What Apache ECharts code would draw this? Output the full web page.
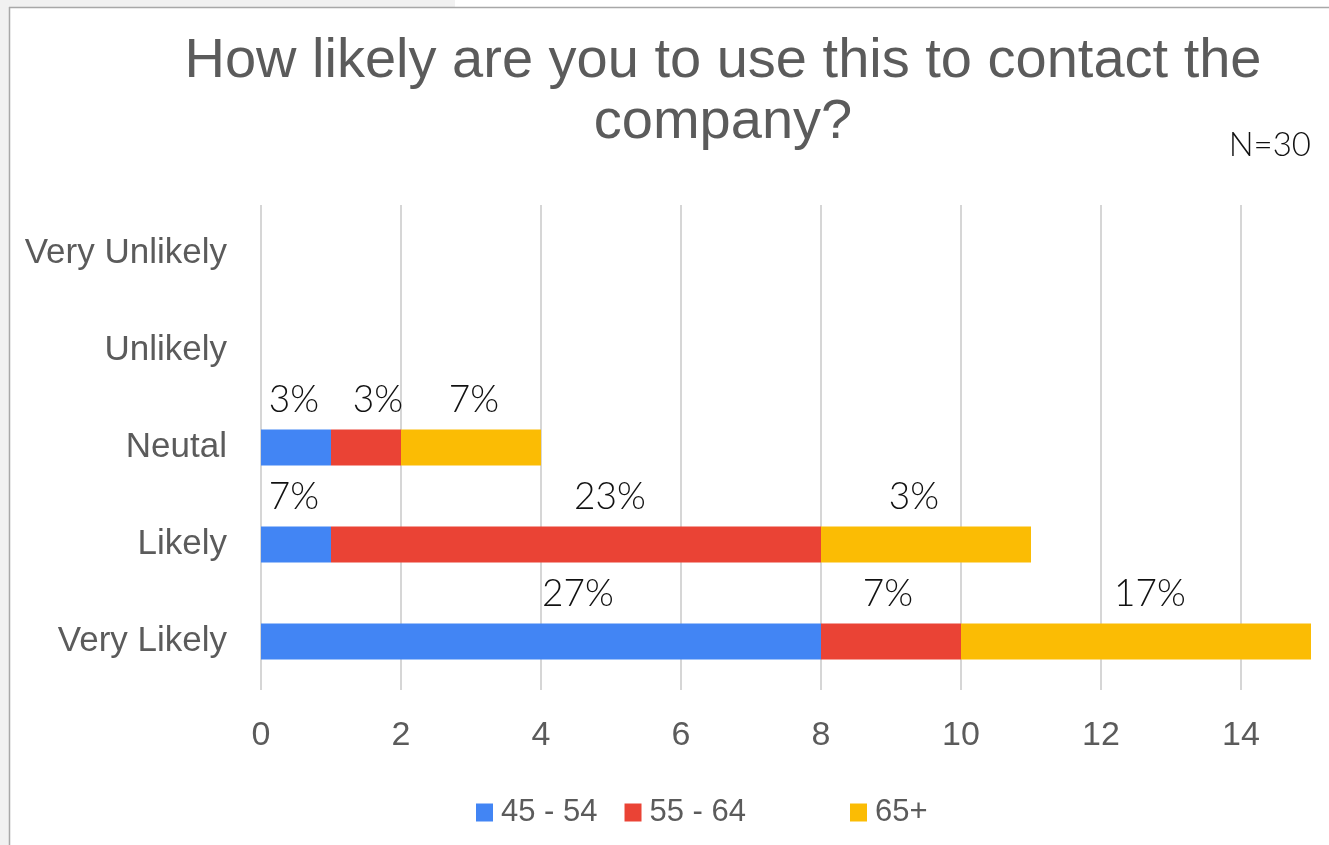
<!DOCTYPE html>
<html>
<head>
<meta charset="utf-8">
<title>How likely are you to use this to contact the company?</title>
<script src="https://cdn.jsdelivr.net/npm/echarts@6/dist/echarts.min.js"></script>
<style>
  html, body { margin: 0; padding: 0; background: #ffffff; }
  #chart { width: 1329px; height: 845px; }
</style>
</head>
<body>
<div id="chart"></div>
<script>
// Response categories, bottom to top on the vertical axis
const categories = ['Very Likely', 'Likely', 'Neutal', 'Unlikely', 'Very Unlikely'];
const groupNames = ['45 - 54', '55 - 64', '65+'];

// Respondent counts per age group (N=30)
const age45to54 = [8, 1, 1, 0, 0];
const age55to64 = [2, 7, 1, 0, 0];
const age65plus = [5, 3, 2, 0, 0];

// Percentage captions shown above each segment
const pct45to54 = ['27%', '7%', '3%', '', ''];
const pct55to64 = ['7%', '23%', '3%', '', ''];
const pct65plus = ['17%', '3%', '7%', '', ''];

const groupColors = ['#4285F4', '#EA4335', '#FBBC04'];
const sansText = '"Liberation Sans", Arial, sans-serif';
const captionFont = 'Lato, "Noto Sans", sans-serif';

// Horizontal nudges (px) for the hand-placed captions, per series and category
const captionShift = [
  [37, -2, -2, 0, 0],
  [-3, 34, 12, 0, 0],
  [14, -12, 3, 0, 0]
];

const chart = echarts.init(document.getElementById('chart'), null, { renderer: 'canvas' });

function makeSeries(idx, values, captions) {
  return {
    name: groupNames[idx],
    type: 'bar',
    stack: 'total',
    barWidth: 36,
    data: values.map((v, i) => ({
      value: v,
      label: { offset: [captionShift[idx][i], 0] }
    })),
    itemStyle: { color: groupColors[idx] },
    label: {
      show: true,
      position: 'top',
      distance: 11,
      color: '#111111',
      fontFamily: captionFont,
      fontWeight: 300,
      fontSize: 37,
      formatter: p => captions[p.dataIndex]
    },
    emphasis: { disabled: true }
  };
}

const legendText = {
  color: '#5b5b5b',
  fontFamily: sansText,
  fontSize: 31,
  padding: [0, 0, 0, 3]
};

chart.setOption({
  animation: false,
  backgroundColor: '#ffffff',
  title: {
    text: 'How likely are you to use this to contact the\ncompany?',
    left: 718,
    top: 26,
    textAlign: 'center',
    textStyle: {
      color: '#5b5b5b',
      fontFamily: sansText,
      fontWeight: 'normal',
      fontSize: 56,
      lineHeight: 61
    }
  },
  legend: [
    {
      left: 476,
      top: 797,
      padding: 0,
      itemWidth: 17,
      itemHeight: 18,
      itemGap: 27,
      icon: 'rect',
      textStyle: legendText,
      data: [groupNames[0], groupNames[1]]
    },
    {
      left: 850,
      top: 797,
      padding: 0,
      itemWidth: 17,
      itemHeight: 18,
      icon: 'rect',
      textStyle: legendText,
      data: [groupNames[2]]
    }
  ],
  grid: {
    left: 261,
    right: 18,
    top: 205,
    bottom: 155,
    containLabel: false
  },
  xAxis: {
    type: 'value',
    min: 0,
    max: 15,
    interval: 2,
    axisLine: { show: false },
    axisTick: { show: false },
    axisLabel: {
      color: '#5b5b5b',
      fontFamily: sansText,
      fontSize: 34,
      margin: 29,
      showMaxLabel: false
    },
    splitLine: {
      show: true,
      lineStyle: {
        width: 2,
        color: ['#d6d6d6', '#d6d6d6', '#d6d6d6', '#d6d6d6', '#d6d6d6',
                '#d6d6d6', '#d6d6d6', '#d6d6d6', 'rgba(0,0,0,0)']
      }
    }
  },
  yAxis: {
    type: 'category',
    data: categories,
    axisLine: { show: false },
    axisTick: { show: false },
    axisLabel: {
      color: '#5b5b5b',
      fontFamily: sansText,
      fontSize: 35,
      margin: 34,
      padding: [8, 0, 0, 0]
    }
  },
  graphic: [
    { type: 'rect', silent: true, z: 100, shape: { x: 0, y: 0, width: 455, height: 7 }, style: { fill: '#f1f1f1' } },
    { type: 'rect', silent: true, z: 100, shape: { x: 0, y: 0, width: 9, height: 845 }, style: { fill: '#f1f1f1' } },
    { type: 'line', silent: true, z: 101, shape: { x1: 9, y1: 7.5, x2: 1329, y2: 7.5 }, style: { stroke: '#a8a8a8', lineWidth: 1.5 } },
    { type: 'line', silent: true, z: 101, shape: { x1: 9.5, y1: 7, x2: 9.5, y2: 845 }, style: { stroke: '#a8a8a8', lineWidth: 1.5 } },
    {
      type: 'text',
      silent: true,
      right: 18,
      top: 129,
      style: {
        text: 'N=30',
        fill: '#111111',
        font: '300 33px ' + captionFont
      }
    }
  ],
  series: [
    makeSeries(0, age45to54, pct45to54),
    makeSeries(1, age55to64, pct55to64),
    makeSeries(2, age65plus, pct65plus)
  ]
});
</script>
</body>
</html>
